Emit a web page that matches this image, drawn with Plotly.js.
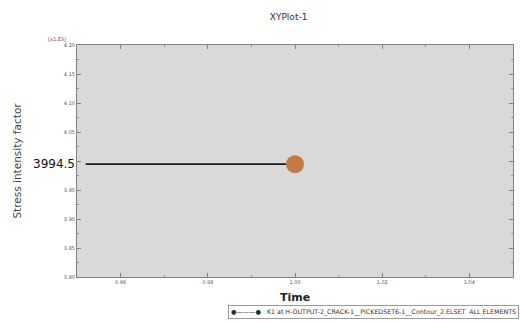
<!DOCTYPE html>
<html>
<head>
<meta charset="utf-8">
<script src="https://cdn.plot.ly/plotly-3.0.1.min.js"></script>
<style>html,body{margin:0;padding:0;background:#fff;}#chart{width:520px;height:322px;}</style>
</head>
<body>
<div id="chart"></div>
<script>
// Data
const seriesName = 'K1 at H-OUTPUT-2_CRACK-1__PICKEDSET6-1__Contour_2 ELSET  ALL ELEMENTS';
const timeValues = [1.00];
const kValues = [3994.5];
const leaderStartTime = 0.952;
const valueLabel = '3994.5';
const xTickVals = [0.96, 0.98, 1.00, 1.02, 1.04];
const xTickText = ['0.96', '0.98', '1.00', '1.02', '1.04'];
const yTickVals = [3800, 3850, 3900, 3950, 4000, 4050, 4100, 4150, 4200];
const yTickText = ['3.80', '3.85', '3.90', '3.95', '', '4.05', '4.10', '4.15', '4.20'];

const traces = [
  {
    x: [leaderStartTime, timeValues[0]],
    y: [kValues[0], kValues[0]],
    mode: 'lines',
    line: {color: '#1a1a1a', width: 1.8},
    name: seriesName,
    showlegend: false,
    hoverinfo: 'skip'
  },
  {
    x: timeValues,
    y: kValues,
    mode: 'markers',
    marker: {color: '#c47a45', size: 18, line: {width: 0}},
    showlegend: false
  }
];

const axisCommon = {
  showgrid: false, zeroline: false,
  showline: true, linecolor: '#808080', linewidth: 1, mirror: 'ticks',
  ticks: 'inside', ticklen: 4, tickcolor: '#808080',
  tickfont: {family: 'DejaVu Sans', size: 5, color: '#555'}
};

const layout = {
  width: 520, height: 322,
  margin: {l: 77, r: 7, t: 45, b: 45},
  paper_bgcolor: '#ffffff',
  plot_bgcolor: '#d9d9d9',
  showlegend: false,
  title: {text: 'XYPlot-1', x: 0.555, xanchor: 'center', y: 0.947, yanchor: 'middle',
          font: {family: 'DejaVu Sans', size: 9, color: '#333'}},
  xaxis: Object.assign({}, axisCommon, {
    range: [0.95, 1.05], tickvals: xTickVals, ticktext: xTickText,
    minor: {ticks: 'inside', ticklen: 2, tickcolor: '#999', dtick: 0.01, tick0: 0.95},
    title: {text: '<b>Time</b>', standoff: 9, font: {family: 'DejaVu Sans', size: 11, color: '#222'}}
  }),
  yaxis: Object.assign({}, axisCommon, {
    range: [3800, 4200], tickvals: yTickVals, ticktext: yTickText,
    minor: {ticks: 'inside', ticklen: 2, tickcolor: '#999', dtick: 25, tick0: 3800},
    title: {text: 'Stress intensity factor', standoff: 40, font: {family: 'DejaVu Sans', size: 10.5, color: '#444'}}
  }),
  annotations: [
    {text: '[x1.E3]', xref: 'paper', yref: 'paper', x: -0.02, y: 1.0, xanchor: 'right', yanchor: 'bottom',
     yshift: 1, showarrow: false, font: {family: 'DejaVu Sans', size: 5, color: '#555'}},
    {text: valueLabel, xref: 'paper', yref: 'y', x: 0, y: kValues[0], xanchor: 'right', yanchor: 'middle',
     xshift: 0, showarrow: false, font: {family: 'DejaVu Sans', size: 12, color: '#111'}},
    {text: '<span style="color:#1c2a4a">●———●</span>   ' + seriesName,
     xref: 'paper', yref: 'paper', x: 1.014, y: -0.151, xanchor: 'right', yanchor: 'middle',
     showarrow: false, align: 'left',
     bgcolor: '#ffffff', bordercolor: '#9a9a9a', borderwidth: 1, borderpad: 2,
     font: {family: 'DejaVu Sans', size: 6.3, color: '#333'}}
  ]
};

Plotly.newPlot('chart', traces, layout, {displayModeBar: false, staticPlot: true});
</script>
</body>
</html>
